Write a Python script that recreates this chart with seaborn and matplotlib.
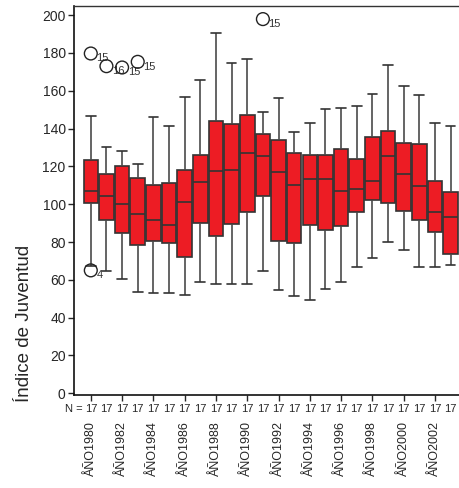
import pandas as pd
import matplotlib
matplotlib.use("Agg")
from matplotlib import pyplot as plt
import seaborn as sns

# five-number summaries (17 cases per year)
years = list(range(1980, 2004))
lo = [67.5, 64.5, 60.2, 53.5, 52.9, 52.9, 52.2, 58.7, 57.9, 57.9, 57.9, 64.5,
      54.4, 51.3, 49.2, 55.0, 58.7, 67.0, 71.4, 80.2, 75.8, 66.6, 66.6, 67.9]
q1 = [100.5, 91.7, 84.9, 78.6, 80.7, 79.5, 72.3, 90.1, 83.0, 89.5, 95.7, 104.5,
      80.7, 79.5, 89.0, 86.4, 88.3, 95.9, 102.4, 100.8, 96.6, 91.7, 85.1, 73.7]
med = [107.0, 104.5, 100.1, 94.6, 91.7, 89.0, 101.0, 111.5, 117.3, 118.0, 127.3, 125.4,
       116.8, 110.3, 113.3, 113.3, 106.8, 108.2, 112.4, 125.6, 115.9, 109.4, 95.9, 93.0]
q3 = [123.5, 115.9, 120.0, 114.0, 110.1, 111.0, 118.0, 126.1, 144.0, 142.6, 147.0, 137.0,
      134.0, 127.3, 126.1, 126.1, 129.1, 123.8, 135.3, 138.8, 132.3, 131.8, 112.4, 106.6]
hi = [146.5, 130.3, 128.2, 121.5, 146.2, 141.1, 156.9, 165.5, 190.7, 174.5, 176.9, 149.0,
      156.4, 138.3, 143.2, 150.6, 151.1, 152.0, 158.5, 173.6, 162.7, 157.6, 143.2, 141.2]
n_cases = [17] * len(years)

# outliers (year, value, case label)
out_year = [1980, 1980, 1981, 1982, 1983, 1991]
out_val = [179.7, 65.0, 173.0, 172.3, 175.3, 197.9]
out_lab = ["15", "4", "16", "15", "15", "15"]

labels = ["ÅÑO%d" % y for y in years]

rows = []
for i, lab in enumerate(labels):
    for v in (lo[i], q1[i], med[i], q3[i], hi[i]):
        rows.append({"year": lab, "value": v})
df = pd.DataFrame(rows)

sns.set_style("ticks")
plt.rcParams["font.family"] = ["Liberation Sans", "DejaVu Sans"]

fig = plt.figure(figsize=(4.6, 4.88), dpi=100)
ax = fig.add_axes([0.161, 0.1906, 0.837, 0.797])

sns.boxplot(
    data=df, x="year", y="value", order=labels,
    whis=(0, 100), width=0.93, color="#ED1C24", saturation=1,
    linecolor="#333333", linewidth=1.2, showfliers=False,
    capwidths=0.62, whiskerprops={"color": "#4a4a4a"}, ax=ax,
)

# outliers as open circles with case numbers
out_pos = [years.index(y) for y in out_year]
sns.scatterplot(x=out_pos, y=out_val, marker="o", s=85, facecolor="none",
                edgecolor="#222222", linewidth=1.0, ax=ax, zorder=5)
for p, v, t in zip(out_pos, out_val, out_lab):
    ax.annotate(t, (p, v), xytext=(4, -3.5), textcoords="offset points",
                fontsize=8, color="#333333", ha="left", va="center")

ax.set_xlim(-1.07, 23.54)
ax.set_ylim(-0.9, 204.8)
ax.set_yticks(range(0, 201, 20))
ax.set_xticks(range(0, 24, 2))
ax.set_xticklabels(labels[::2], rotation=90)
ax.tick_params(axis="x", length=4, width=1, pad=15, labelsize=9)
ax.tick_params(axis="y", length=4, width=1, pad=2, labelsize=10)
ax.set_xlabel("")
ax.set_ylabel("")

for side in ["left", "bottom"]:
    ax.spines[side].set_linewidth(1.2)
    ax.spines[side].set_color("#111111")
ax.spines["top"].set_linewidth(1.0)
ax.spines["top"].set_color("#333333")
ax.spines["right"].set_visible(False)

# N = 17 row under the axis
trans = ax.get_xaxis_transform()
ax.text(-0.5, -0.037, "N =", transform=trans, ha="right", va="center",
        fontsize=8, clip_on=False)
for i, n in enumerate(n_cases):
    ax.text(i, -0.037, str(n), transform=trans, ha="center", va="center",
            fontsize=8, clip_on=False)

fig.text(0.054, 0.337, "Índice de Juventud", rotation=90, ha="center",
         va="center", fontsize=13.5)

fig.savefig("out.png", dpi=100)
